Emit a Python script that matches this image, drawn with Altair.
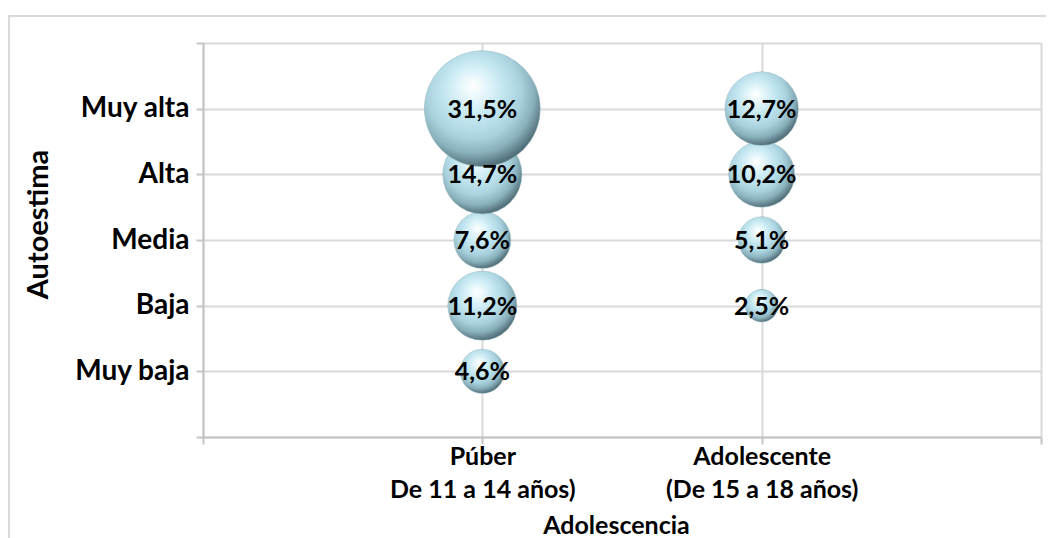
import altair as alt
import pandas as pd

# ---- data ----
niveles = ["Muy baja", "Baja", "Media", "Alta", "Muy alta"]
nivel_etiquetas = ["Muy baja", "Baja\u00a0", "Media\u00a0", "Alta\u00a0", "Muy alta"]
grupos = ["Púber", "Adolescente"]
grupo_lineas = [["Púber", "De 11 a 14 años)"], ["Adolescente", "(De 15 a 18 años)"]]
puber = [4.6, 11.2, 7.6, 14.7, 31.5]
adolescente = [None, 2.5, 5.1, 10.2, 12.7]
series = [puber, adolescente]

rows = []
for gi, vals in enumerate(series):
    for li, v in enumerate(vals):
        if v is None:
            continue
        rows.append({
            "grupo": grupos[gi],
            "gx": gi + 1,
            "nivel": niveles[li],
            "ny": li + 1,
            "pct": v,
            "label": f"{v:.1f}".replace(".", ",") + "%",
        })
df = pd.DataFrame(rows)

FONT = "Lato"
GRID = "#d9d9d9"
AXISC = "#c4c4c4"

y_label_expr = "[''," + ",".join(f"'{s}'" for s in nivel_etiquetas) + ",''][datum.value]"
x_label_expr = (
    "datum.value==1?['" + "','".join(grupo_lineas[0]) + "']:"
    "datum.value==2?['" + "','".join(grupo_lineas[1]) + "']:''"
)

x_enc = alt.X(
    "gx:Q",
    scale=alt.Scale(domain=[0, 3], nice=False, zero=False),
    axis=alt.Axis(
        values=[0, 1, 2, 3], labelExpr=x_label_expr, title="Adolescencia",
        grid=True, gridColor=GRID, gridWidth=2,
        domainColor=AXISC, domainWidth=2, tickColor=AXISC, tickWidth=2, tickSize=7,
        labelFont=FONT, labelFontSize=25, labelFontWeight="bold", labelColor="black",
        labelBaseline="top", labelLineHeight=33, labelPadding=0, labelLimit=0,
        labelFlush=False, labelOverlap=False,
        titleFont=FONT, titleFontSize=25, titleFontWeight="bold", titleColor="black",
        titleX=413, titleY=96, titleBaseline="alphabetic", titleAlign="center",
    ),
)
y_enc = alt.Y(
    "ny:Q",
    scale=alt.Scale(domain=[0, 6], nice=False, zero=False),
    axis=alt.Axis(
        values=[0, 1, 2, 3, 4, 5, 6], labelExpr=y_label_expr, title="Autoestima",
        grid=True, gridColor=GRID, gridWidth=2,
        domainColor=AXISC, domainWidth=2, tickColor=AXISC, tickWidth=2, tickSize=7,
        labelFont=FONT, labelFontSize=28, labelFontWeight="bold", labelColor="black",
        labelPadding=7, labelOverlap=False, labelFlush=False, labelLimit=0,
        titleFont=FONT, titleFontSize=29, titleFontWeight="bold", titleColor="black",
        titleAngle=270, titleX=-165, titleY=181, titleAlign="center", titleBaseline="middle",
    ),
)

gradient = alt.RadialGradient(
    gradient="radial",
    stops=[
        alt.GradientStop(color="#ffffff", offset=0.0),
        alt.GradientStop(color="#e4f6fb", offset=0.18),
        alt.GradientStop(color="#c2e6f0", offset=0.42),
        alt.GradientStop(color="#a9d2de", offset=0.66),
        alt.GradientStop(color="#88afba", offset=0.84),
        alt.GradientStop(color="#52707a", offset=1.0),
    ],
    x1=0.42, y1=0.3, r1=0.0,
    x2=0.43, y2=0.38, r2=0.62,
)

border = alt.Chart(pd.DataFrame({"a": [0]})).mark_rect(
    fill="transparent", stroke="#d9d9d9", strokeWidth=2
).encode(
    x=alt.value(-194), x2=alt.value(900), y=alt.value(-27), y2=alt.value(700)
)

base = alt.Chart(df)

bubbles = base.mark_circle(fill=gradient, opacity=1, stroke="#9fbfc8", strokeWidth=0.5).encode(
    x=x_enc,
    y=y_enc,
    size=alt.Size("pct:Q", scale=alt.Scale(domain=[0, 31.5], range=[0, 13456]), legend=None),
)

labels = base.mark_text(
    font=FONT, fontSize=25, fontWeight="bold", color="black", baseline="middle", dy=1
).encode(
    x="gx:Q",
    y="ny:Q",
    text="label:N",
)

chart = alt.layer(border, bubbles, labels).properties(
    width=838,
    height=394,
    autosize=alt.AutoSizeParams(type="none"),
    padding={"left": 195, "top": 35, "right": 5, "bottom": 101},
).configure_view(stroke=None)

chart.save("out.html", embed_options={"renderer": "svg", "actions": False})
